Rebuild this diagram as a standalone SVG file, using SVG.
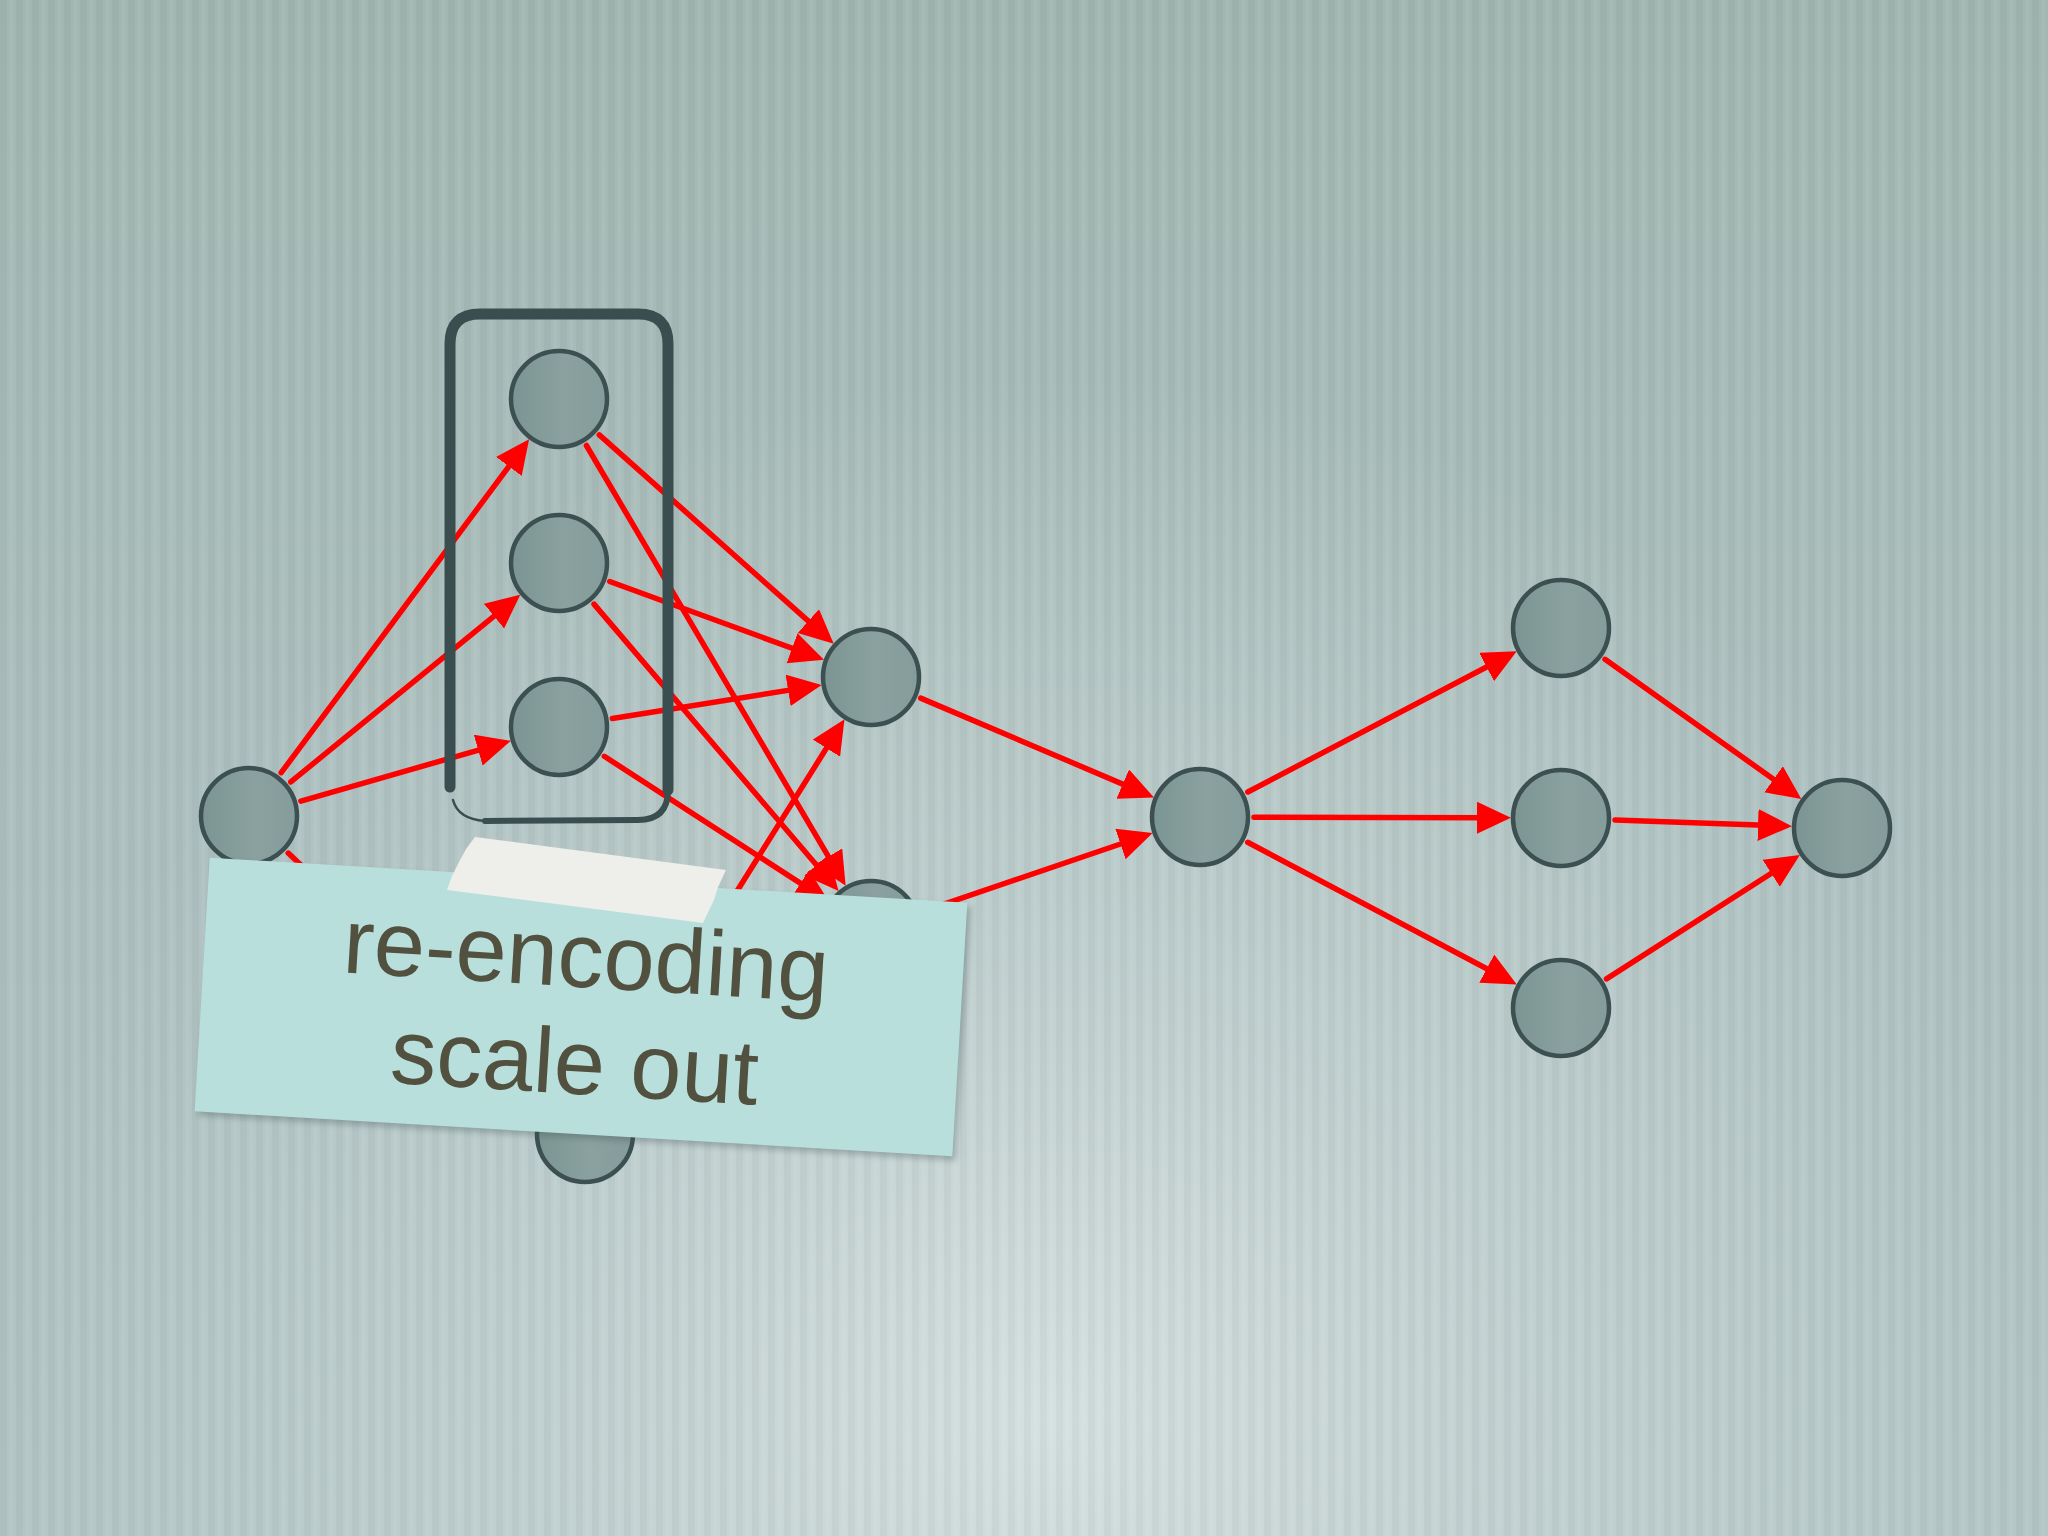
<svg xmlns="http://www.w3.org/2000/svg" width="2048" height="1536" viewBox="0 0 2048 1536">
  <defs>
    <linearGradient id="bg" x1="0" y1="0" x2="0" y2="1">
      <stop offset="0" stop-color="#a2b7b2"/>
      <stop offset="0.5" stop-color="#adc0bf"/>
      <stop offset="1" stop-color="#b3c5c5"/>
    </linearGradient>
    <radialGradient id="glow" cx="1050" cy="1420" r="1050" gradientUnits="userSpaceOnUse">
      <stop offset="0" stop-color="#e4ecec" stop-opacity="0.7"/>
      <stop offset="0.5" stop-color="#e0e9e9" stop-opacity="0.3"/>
      <stop offset="1" stop-color="#e0e9e9" stop-opacity="0"/>
    </radialGradient>
    <pattern id="stripes" x="0" y="0" width="16" height="64" patternUnits="userSpaceOnUse">
      <rect x="0" y="0" width="7" height="64" fill="#000" opacity="0.03"/>
      <rect x="10" y="0" width="3" height="64" fill="#fff" opacity="0.05"/>
    </pattern>
    <linearGradient id="nodefill" x1="0" y1="0" x2="1" y2="0">
      <stop offset="0" stop-color="#7b9592"/>
      <stop offset="0.55" stop-color="#8aa19f"/>
      <stop offset="1" stop-color="#859d9a"/>
    </linearGradient>
    <marker id="ah" markerUnits="userSpaceOnUse" markerWidth="36" markerHeight="34" refX="14" refY="16" orient="auto">
      <path d="M0,0 L34,16 L0,32 Z" fill="#ff0000"/>
    </marker>
    <filter id="shadow" x="-10%" y="-10%" width="120%" height="130%">
      <feGaussianBlur stdDeviation="3"/>
    </filter>
    <style>
      .edge { fill: none; stroke: #ff0000; stroke-width: 5.5; stroke-linecap: round; marker-end: url(#ah); }
      .node { fill: url(#nodefill); stroke: #3c4f51; stroke-width: 4.5; }
      .frame { fill: none; stroke: #3a4e50; stroke-linecap: round; stroke-linejoin: round; }
      .label { font-family: "Liberation Sans", Arial, sans-serif; font-size: 92px; fill: #525140; text-anchor: middle; }
    </style>
  </defs>

  <rect width="2048" height="1536" fill="url(#bg)"/>
  <rect width="2048" height="1536" fill="url(#glow)"/>
  <rect width="2048" height="1536" fill="url(#stripes)"/>

  <g id="connectors">
    <path class="edge" d="M281.2,772.7 L517.2,455.2"/>
    <path class="edge" d="M290.8,781.9 L504.8,607.3"/>
    <path class="edge" d="M300.9,801.1 L491.7,746.3"/>
    <path class="edge" d="M288.2,853.1 L534.2,1085.9"/>
    <path class="edge" d="M599.3,434.9 L818.8,630.4"/>
    <path class="edge" d="M586.4,445.5 L835.5,868.6"/>
    <path class="edge" d="M609.7,581.5 L805.2,653.0"/>
    <path class="edge" d="M594.0,604.1 L825.6,875.7"/>
    <path class="edge" d="M612.3,718.5 L801.9,688.1"/>
    <path class="edge" d="M604.3,756.3 L812.2,890.9"/>
    <path class="edge" d="M613.6,1088.2 L833.9,736.3"/>
    <path class="edge" d="M628.9,1102.5 L814.1,969.8"/>
    <path class="edge" d="M920.7,698.1 L1135.6,789.6"/>
    <path class="edge" d="M922.1,911.6 L1133.7,839.5"/>
    <path class="edge" d="M1247.8,792.0 L1499.0,660.5"/>
    <path class="edge" d="M1254,817.2 L1491,817.8"/>
    <path class="edge" d="M1247.7,842.3 L1499.1,975.2"/>
    <path class="edge" d="M1605.0,659.3 L1785.0,787.4"/>
    <path class="edge" d="M1615.0,819.9 L1772.0,825.5"/>
    <path class="edge" d="M1606.5,978.9 L1783.0,865.8"/>
  </g>

  <g id="node-a"><circle class="node" cx="249" cy="816" r="48"/></g>
  <g id="node-b1"><circle class="node" cx="559" cy="399" r="48"/></g>
  <g id="node-b2"><circle class="node" cx="559" cy="563" r="48"/></g>
  <g id="node-b3"><circle class="node" cx="559" cy="727" r="48"/></g>
  <g id="node-b4"><circle class="node" cx="585" cy="1134" r="48"/></g>
  <g id="node-c1"><circle class="node" cx="871" cy="677" r="48"/></g>
  <g id="node-c2"><circle class="node" cx="871" cy="929" r="48"/></g>
  <g id="node-d"><circle class="node" cx="1200" cy="817" r="48"/></g>
  <g id="node-e1"><circle class="node" cx="1561" cy="628" r="48"/></g>
  <g id="node-e2"><circle class="node" cx="1561" cy="818" r="48"/></g>
  <g id="node-e3"><circle class="node" cx="1561" cy="1008" r="48"/></g>
  <g id="node-f"><circle class="node" cx="1842" cy="828" r="48"/></g>

  <g id="group-frame">
    <path class="frame" stroke-width="11" d="M450,787 L450,344 Q450,314 480,314 L638,314 Q668,314 668,344 L668,790"/>
    <path class="frame" stroke-width="6" d="M668,790 Q668,820 638,820 L485,821"/>
    <path class="frame" stroke-width="2.5" d="M485,821 Q458,819 453,800"/>
  </g>

  <g id="note">
    <g transform="rotate(3.4 581 1007)">
      <rect x="205" y="884" width="759" height="254" fill="#3f5556" opacity="0.35" filter="url(#shadow)"/>
      <rect x="201.5" y="880" width="759" height="254" fill="#b8dfdc"/>
    </g>
    <polygon points="475,837 726,870 718,887 714,900 703,923 447,890 452,876 459,862 466,849" fill="#eeeeea"/>
    <g transform="rotate(3.5 580 1040)">
      <text class="label" x="581" y="987">re-encoding</text>
      <text class="label" x="576" y="1094">scale out</text>
    </g>
  </g>
</svg>
